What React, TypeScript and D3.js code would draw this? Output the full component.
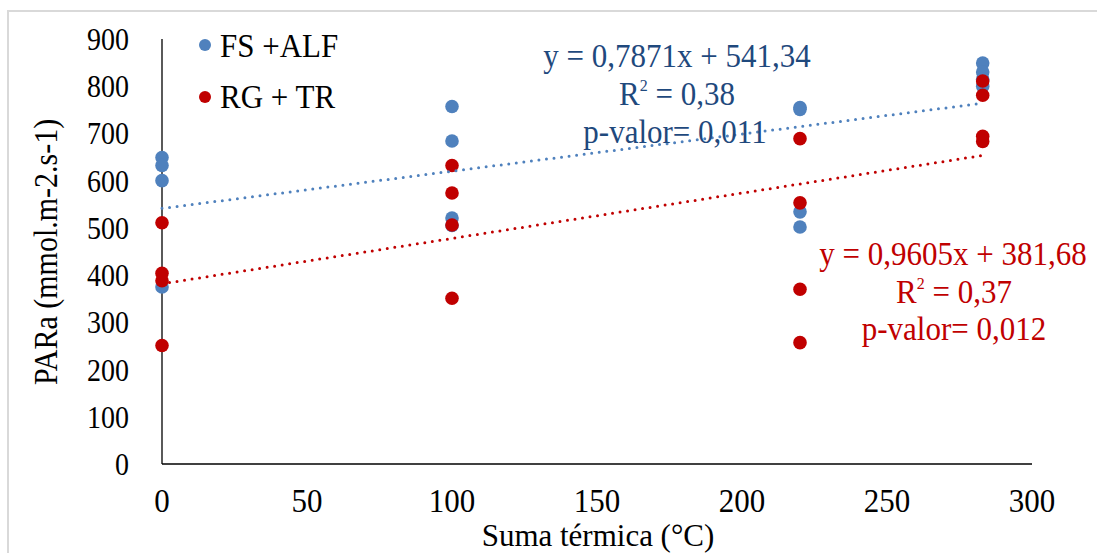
import React from "react";
import * as d3 from "d3";

const W = 1097;
const H = 553;

// Data
const fsAlfX = [0, 0, 0, 0, 100, 100, 100, 100, 220, 220, 220, 220, 283, 283, 283, 283];
const fsAlfY = [649, 632, 600, 375, 757, 684, 521, 505, 755, 751, 534, 502, 849, 830, 815, 800];
const rgTrX = [0, 0, 0, 0, 100, 100, 100, 100, 220, 220, 220, 220, 283, 283, 283, 283];
const rgTrY = [511, 404, 388, 251, 632, 574, 506, 351, 689, 553, 370, 257, 811, 781, 694, 683];

const fsAlfFit = { slope: 0.7871, intercept: 541.34 };
const rgTrFit = { slope: 0.9605, intercept: 381.68 };
const fitRange = [0, 283];

const xTicks = [0, 50, 100, 150, 200, 250, 300];
const yTicks = [0, 100, 200, 300, 400, 500, 600, 700, 800, 900];

const fsAlfLabels = ["y = 0,7871x + 541,34", "0,38", "p-valor= 0,011"];
const rgTrLabels = ["y = 0,9605x + 381,68", "0,37", "p-valor= 0,012"];

const BLUE = "#4F81BD";
const RED = "#C00000";
const BLUE_TXT = "#1F497D";
const RED_TXT = "#C00000";
const FONT = "Liberation Serif";

const T = (props: any) => {
  const { x, y, sy = 1.1, children, ...rest } = props;
  return (
    <text transform={`translate(${x},${y}) scale(1,${sy})`} style={{ fontFamily: FONT }} {...rest}>
      {children}
    </text>
  );
};

export default function App() {
  const x = d3.scaleLinear().domain([0, 300]).range([162, 1032]);
  const y = d3.scaleLinear().domain([0, 900]).range([464, 39]);

  const fitPath = (fit: { slope: number; intercept: number }) =>
    d3
      .line<number>()
      .x((d) => x(d))
      .y((d) => y(fit.intercept + fit.slope * d))(fitRange) as string;

  return (
    <svg
      width={W}
      height={H}
      style={{ position: "absolute", left: 0, top: 0, background: "#fff", fontFamily: FONT }}
    >
      <rect x={0} y={0} width={W} height={H} fill="#fff" />
      <rect x={8} y={11} width={W + 20} height={H + 20} fill="#fff" stroke="#D9D9D9" strokeWidth={2} />

      {/* axes */}
      <line x1={x(0)} x2={x(0)} y1={y(900)} y2={y(0)} stroke="#000" strokeWidth={1.3} />
      <line x1={x(0)} x2={x(300)} y1={y(0)} y2={y(0)} stroke="#000" strokeWidth={1.3} />

      {yTicks.map((t) => (
        <T key={"y" + t} x={129} y={y(t) + 11} textAnchor="end" fontSize={28} fill="#000">
          {t}
        </T>
      ))}
      {xTicks.map((t) => (
        <T key={"x" + t} x={x(t)} y={512} textAnchor="middle" fontSize={31} fill="#000">
          {t}
        </T>
      ))}

      <T x={598} y={546} sy={1.05} textAnchor="middle" fontSize={31} fill="#000">
        Suma térmica (°C)
      </T>
      <text
        transform={`translate(57,252) rotate(-90) scale(1,1.1)`}
        textAnchor="middle"
        fontSize={30}
        fill="#000"
        style={{ fontFamily: FONT }}
      >
        PARa (mmol.m-2.s-1)
      </text>

      {/* points */}
      {fsAlfY.map((v, i) => (
        <circle key={"b" + i} cx={x(fsAlfX[i])} cy={y(v)} r={6.8} fill={BLUE} />
      ))}
      {rgTrY.map((v, i) => (
        <circle key={"r" + i} cx={x(rgTrX[i])} cy={y(v)} r={6.8} fill={RED} />
      ))}

      {/* trend lines */}
      <path
        d={fitPath(fsAlfFit)}
        fill="none"
        stroke={BLUE}
        strokeWidth={3}
        strokeLinecap="round"
        strokeDasharray="0 7.6"
      />
      <path
        d={fitPath(rgTrFit)}
        fill="none"
        stroke={RED}
        strokeWidth={3}
        strokeLinecap="round"
        strokeDasharray="0 7.6"
      />

      {/* legend */}
      <circle cx={205} cy={45} r={6} fill={BLUE} />
      <T x={220} y={57} fontSize={31} fill="#000">
        FS +ALF
      </T>
      <circle cx={205} cy={97} r={6} fill={RED} />
      <T x={220} y={108} fontSize={31} fill="#000">
        RG + TR
      </T>

      {/* equations */}
      <g fill={BLUE_TXT} fontSize={31} textAnchor="middle">
        <T x={677} y={67}>{fsAlfLabels[0]}</T>
        <T x={677} y={105}>
          R<tspan fontSize={16} dy={-13}>2</tspan>
          <tspan dy={13}> = {fsAlfLabels[1]}</tspan>
        </T>
        <T x={675} y={143}>{fsAlfLabels[2]}</T>
      </g>
      <g fill={RED_TXT} fontSize={31} textAnchor="middle">
        <T x={953} y={265}>{rgTrLabels[0]}</T>
        <T x={954} y={303}>
          R<tspan fontSize={16} dy={-13}>2</tspan>
          <tspan dy={13}> = {rgTrLabels[1]}</tspan>
        </T>
        <T x={954} y={340}>{rgTrLabels[2]}</T>
      </g>
    </svg>
  );
}
